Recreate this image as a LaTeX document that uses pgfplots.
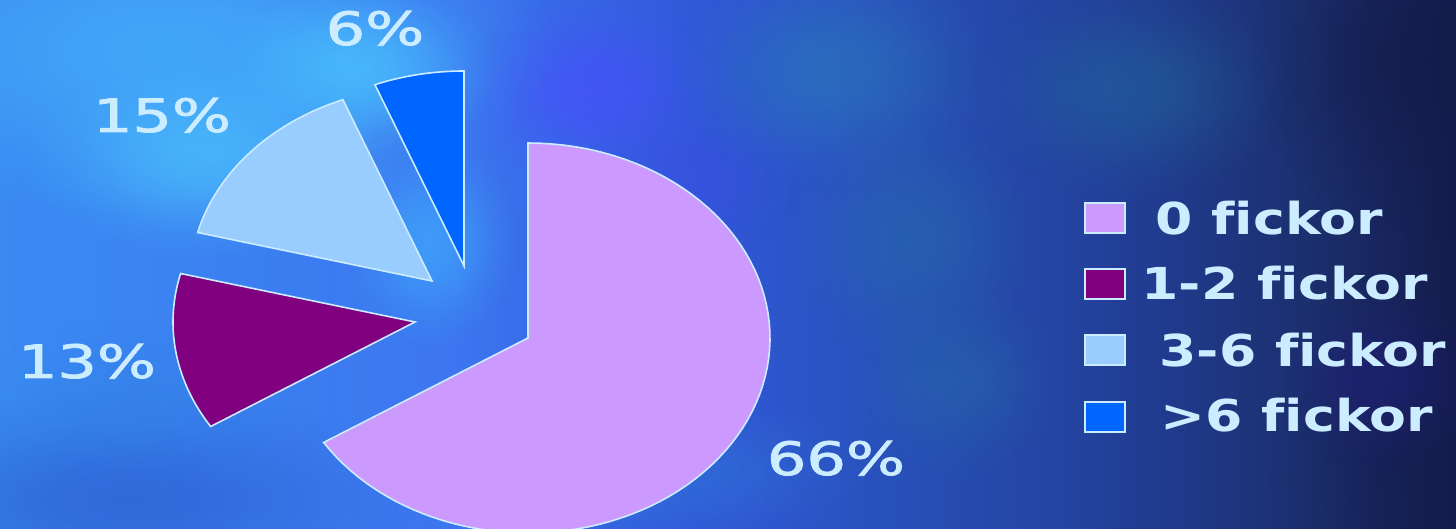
\documentclass[border=0pt]{standalone}
\usepackage{pgfplots}
\pgfplotsset{compat=1.18}
\usepackage{pgfplotstable}
\usepackage{graphicx}
\usepackage{fontspec}
\setmainfont{DejaVu Sans}[Ligatures={NoCommon,NoRequired}]
\newfontfamily\pctfam{DejaVu Sans}[FakeBold=1.6]
\usetikzlibrary{fadings}

\definecolor{txt}{HTML}{CCECFF}
\definecolor{c0}{HTML}{CC99FF}
\definecolor{c1}{HTML}{800080}
\definecolor{c2}{HTML}{99CCFF}
\definecolor{c3}{HTML}{0066FF}
% background
\definecolor{bg0}{HTML}{3A8AF2}
\definecolor{bg1}{HTML}{3C76F0}
\definecolor{bg2}{HTML}{3058D8}
\definecolor{bg3}{HTML}{2850B8}
\definecolor{bg4}{HTML}{22409A}
\definecolor{bg5}{HTML}{1C3070}
\definecolor{bg6}{HTML}{141C4C}
\pgfdeclarehorizontalshading{bgshade}{100bp}{color(0bp)=(bg0); color(25bp)=(bg0);
  color(40.5bp)=(bg1); color(49bp)=(bg2); color(56bp)=(bg3); color(63bp)=(bg4);
  color(69.6bp)=(bg5); color(75bp)=(bg6); color(100bp)=(bg6)}
% soft round fading: white opaque, black transparent
\pgfdeclareradialshading{softsh}{\pgfpoint{0bp}{0bp}}{color(0bp)=(white);
  color(6bp)=(white!88!black); color(12bp)=(white!58!black); color(18bp)=(white!24!black);
  color(25bp)=(black); color(50bp)=(black)}
\pgfdeclarefading{blob}{\pgfuseshading{softsh}}
% hex colour, x, y (pixels from top), rx, ry, opacity
\newcommand\blob[6]{\definecolor{tmpc}{HTML}{#1}%
  \fill[tmpc, path fading=blob, fill opacity=#6] (#2,{529-#3}) ellipse [x radius=#4, y radius=#5];}

% share of each slice and how far it is pulled out (pixels)
\pgfplotstableread{
pct dx dy
66 0 0
13 -113 16
15 -96 57
6 -64 72
}\piedata

\def\astart{90}
\newcommand\pieslice[2]{%
  \pgfplotstablegetelem{#1}{pct}\of\piedata\let\pp\pgfplotsretval
  \pgfplotstablegetelem{#1}{dx}\of\piedata\let\ddx\pgfplotsretval
  \pgfplotstablegetelem{#1}{dy}\of\piedata\let\ddy\pgfplotsretval
  \pgfmathsetmacro\aend{\astart-3.6*\pp}%
  \pgfmathsetmacro\cx{528+\ddx}%
  \pgfmathsetmacro\cy{191+\ddy}%
  \edef\temp{\noexpand\filldraw[fill=#2, draw=txt, line width=0.8pt]
    (axis cs:\cx,\cy) -- plot[domain=\astart:\aend, samples=90, variable=\noexpand\t]
    ({\cx+242*cos(\noexpand\t)}, {\cy+195*sin(\noexpand\t)}) -- cycle;}%
  \temp
  \global\let\astart\aend}

\newcommand\pctfont{\fontsize{23}{27}\selectfont\pctfam}
\newcommand\legfont{\fontsize{22}{26}\selectfont\bfseries}

\begin{document}
\begin{tikzpicture}[x=0.5pt,y=0.5pt]
\useasboundingbox (0,0) rectangle (1456,529);
\shade[shading=bgshade] (0,0) rectangle (1456,529);
\begin{scope}
  \clip (0,0) rectangle (1456,529);
  \blob{141C4C}{1450}{60}{200}{180}{0.8}
  \blob{141C4C}{1450}{480}{180}{150}{0.5}
  \blob{44B0FA}{180}{50}{380}{170}{0.8}
  \blob{2A5CCC}{120}{500}{320}{110}{0.65}
  \blob{50D0FF}{210}{160}{190}{100}{0.55}
  \blob{4CCCFF}{360}{70}{140}{90}{0.6}
  \blob{40B8FF}{430}{240}{90}{110}{0.55}
  \blob{4A4CFF}{590}{90}{130}{100}{0.6}
  \blob{4048E8}{690}{180}{110}{90}{0.35}
  \blob{2A80B8}{830}{70}{160}{120}{0.5}
  \blob{2570A8}{910}{240}{130}{130}{0.45}
  \blob{2570A8}{955}{380}{110}{100}{0.4}
  \blob{236E9E}{1130}{90}{160}{110}{0.45}
  \blob{2E80E0}{130}{400}{160}{80}{0.4}
  \blob{2F7AD8}{680}{470}{200}{80}{0.45}
  \blob{231E7A}{1380}{380}{110}{90}{0.5}
\end{scope}
\begin{axis}[at={(0,0)}, anchor=south west, scale only axis,
  width=728pt, height=264.5pt, xmin=0, xmax=1456, ymin=0, ymax=529,
  hide axis, clip=false]
  \pieslice{0}{c0}
  \pieslice{1}{c1}
  \pieslice{2}{c2}
  \pieslice{3}{c3}
  % percentages
  \node[anchor=base, inner sep=0pt, text=txt, font=\pctfont] at (axis cs:836,54) {\scalebox{1.35}[1]{66\%}};
  \node[anchor=base, inner sep=0pt, text=txt, font=\pctfont] at (axis cs:87,151) {\scalebox{1.35}[1]{13\%}};
  \node[anchor=base, inner sep=0pt, text=txt, font=\pctfont] at (axis cs:162,397) {\scalebox{1.35}[1]{15\%}};
  \node[anchor=base, inner sep=0pt, text=txt, font=\pctfont] at (axis cs:375,484) {\scalebox{1.35}[1]{6\%}};
  % legend
  \filldraw[fill=c0, draw=txt, line width=0.8pt] (axis cs:1085,296) rectangle (axis cs:1125,326);
  \filldraw[fill=c1, draw=txt, line width=0.8pt] (axis cs:1085,230) rectangle (axis cs:1125,260);
  \filldraw[fill=c2, draw=txt, line width=0.8pt] (axis cs:1085,164) rectangle (axis cs:1125,194);
  \filldraw[fill=c3, draw=txt, line width=0.8pt] (axis cs:1085,97) rectangle (axis cs:1125,127);
  \node[anchor=base west, inner sep=0pt, text=txt, font=\legfont] at (axis cs:1155,294) {\scalebox{1.22}[1]{0 fickor}};
  \node[anchor=base west, inner sep=0pt, text=txt, font=\legfont] at (axis cs:1141,229) {\scalebox{1.22}[1]{1-2 fickor}};
  \node[anchor=base west, inner sep=0pt, text=txt, font=\legfont] at (axis cs:1159,162) {\scalebox{1.22}[1]{3-6 fickor}};
  \node[anchor=base west, inner sep=0pt, text=txt, font=\legfont] at (axis cs:1160,97) {\scalebox{1.22}[1]{>6 fickor}};
\end{axis}
\end{tikzpicture}
\end{document}
